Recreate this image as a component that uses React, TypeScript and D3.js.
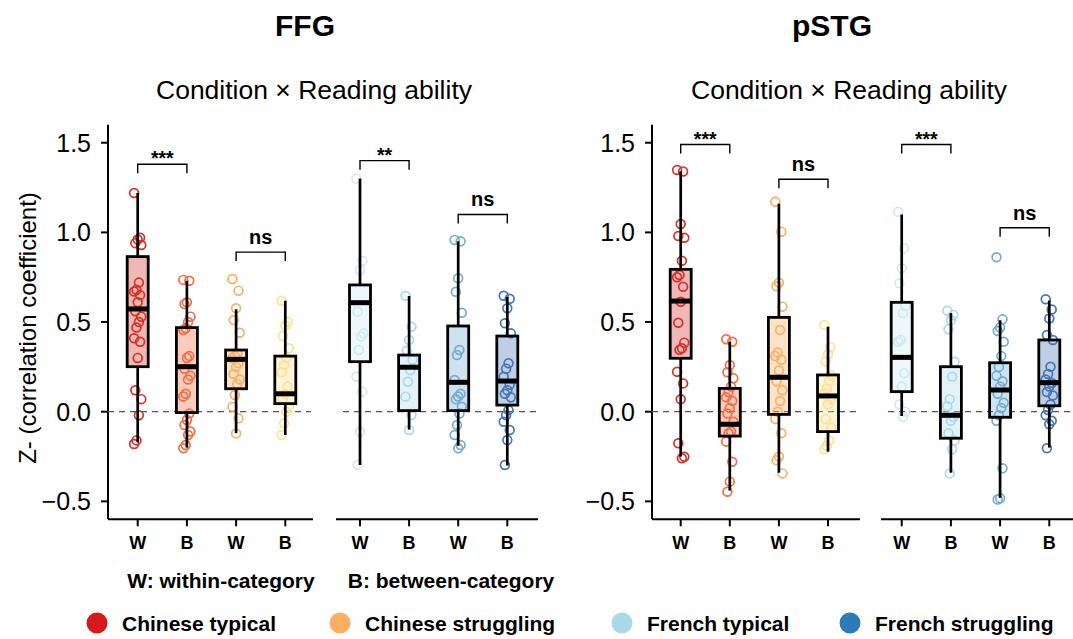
import React from 'react';
import * as d3 from 'd3';

// x labels of the eight boxes in every panel
const groupLabels = ['W', 'B', 'W', 'B', 'W', 'B', 'W', 'B'];
const pointColors = ['#D73027', '#F46D43', '#FDAE61', '#FEE090', '#CFE9F2', '#ABD9E9', '#74ADD1', '#4575B4'];
const yTicks = [-0.5, 0, 0.5, 1.0, 1.5];

const legendLabels = ['Chinese typical', 'Chinese struggling', 'French typical', 'French struggling'];
const legendColors = ['#D7191C', '#FDAE61', '#ABD9E9', '#2C7BB6'];

// FFG
const ffgPoints: number[][] = [
    [1.22, 0.97, 0.96, 0.94, 0.93, 0.72, 0.68, 0.67, 0.65, 0.61, 0.56, 0.53, 0.50, 0.47, 0.41, 0.39, 0.30, 0.12, 0.07, -0.02, -0.16, -0.18],
    [0.735, 0.73, 0.61, 0.60, 0.53, 0.50, 0.465, 0.455, 0.31, 0.30, 0.24, 0.20, 0.18, 0.10, 0.085, -0.01, -0.046, -0.074, -0.11, -0.13, -0.186, -0.204],
    [0.74, 0.675, 0.577, 0.511, 0.44, 0.325, 0.31, 0.30, 0.27, 0.25, 0.21, 0.18, 0.155, 0.093, 0.028, -0.037, -0.121],
    [0.619, 0.502, 0.48, 0.422, 0.354, 0.30, 0.26, 0.22, 0.14, 0.10, 0.07, 0.028, 0.0, -0.065, -0.13],
    [1.30, 0.842, 0.79, 0.558, 0.437, 0.42, 0.344, 0.195, 0.112, -0.112, -0.297],
    [0.647, 0.474, 0.40, 0.34, 0.29, 0.233, 0.167, 0.084, -0.018, -0.102],
    [0.958, 0.95, 0.744, 0.669, 0.552, 0.344, 0.316, 0.177, 0.10, 0.085, 0.07, 0.028, -0.01, -0.074, -0.13, -0.186, -0.204],
    [0.647, 0.63, 0.577, 0.493, 0.437, 0.27, 0.24, 0.195, 0.15, 0.12, 0.10, 0.08, 0.009, -0.02, -0.056, -0.102, -0.158, -0.297],
];
const ffgQ1 = [0.251, -0.005, 0.128, 0.045, 0.279, 0.006, 0.006, 0.037];
const ffgMedian = [0.573, 0.251, 0.292, 0.10, 0.608, 0.248, 0.164, 0.171];
const ffgQ3 = [0.865, 0.469, 0.344, 0.31, 0.707, 0.316, 0.478, 0.422];
const ffgLow = [-0.17, -0.20, -0.12, -0.13, -0.297, -0.10, -0.19, -0.30];
const ffgHigh = [1.22, 0.73, 0.571, 0.619, 1.30, 0.645, 0.95, 0.64];
const ffgSigLabels = ['***', 'ns', '**', 'ns'];
const ffgSigY = [1.38, 0.89, 1.40, 1.10];

// pSTG
const pstgPoints: number[][] = [
    [1.348, 1.34, 1.047, 0.98, 0.97, 0.842, 0.762, 0.75, 0.697, 0.613, 0.496, 0.385, 0.354, 0.345, 0.223, 0.158, 0.069, -0.176, -0.251, -0.26],
    [0.404, 0.39, 0.26, 0.22, 0.186, 0.14, 0.11, 0.08, 0.06, 0.02, -0.01, -0.056, -0.11, -0.12, -0.167, -0.279, -0.39, -0.446],
    [1.171, 1.004, 0.72, 0.70, 0.586, 0.456, 0.33, 0.31, 0.29, 0.23, 0.17, 0.12, 0.06, 0.0, -0.04, -0.12, -0.25, -0.27, -0.344],
    [0.483, 0.36, 0.32, 0.28, 0.20, 0.17, 0.13, 0.10, 0.07, 0.04, -0.04, -0.09, -0.16, -0.19, -0.21],
    [1.115, 0.911, 0.80, 0.716, 0.59, 0.55, 0.40, 0.39, 0.214, 0.14, 0.04, 0.0, -0.03],
    [0.563, 0.54, 0.51, 0.46, 0.279, 0.195, 0.07, 0.03, -0.03, -0.05, -0.12, -0.16, -0.21, -0.344],
    [0.861, 0.515, 0.47, 0.45, 0.39, 0.31, 0.25, 0.20, 0.17, 0.14, 0.10, 0.05, 0.02, -0.02, -0.05, -0.316, -0.483, -0.49],
    [0.627, 0.57, 0.52, 0.428, 0.40, 0.251, 0.21, 0.18, 0.16, 0.14, 0.11, 0.09, 0.04, 0.01, -0.02, -0.05, -0.07, -0.204],
];
const pstgQ1 = [0.298, -0.136, -0.015, -0.111, 0.112, -0.148, -0.031, 0.033];
const pstgMedian = [0.617, -0.07, 0.192, 0.088, 0.303, -0.02, 0.121, 0.162];
const pstgQ3 = [0.794, 0.13, 0.526, 0.205, 0.61, 0.251, 0.273, 0.40];
const pstgLow = [-0.25, -0.44, -0.34, -0.223, -0.024, -0.34, -0.48, -0.20];
const pstgHigh = [1.34, 0.39, 1.16, 0.474, 1.10, 0.55, 0.51, 0.62];
const pstgSigLabels = ['***', 'ns', '***', 'ns'];
const pstgSigY = [1.49, 1.296, 1.49, 1.026];

const FONT = '"Liberation Sans", Arial, Helvetica, sans-serif';

const y = d3.scaleLinear().domain([-0.6, 1.6]).range([519.3, 124.8]);

interface Sub { x0: number; x1: number; t0: number; t1: number; }

interface PanelProps {
    title: string;
    titleX: number;
    subtitleX: number;
    yAxisX: number;
    subs: Sub[];
    points: number[][];
    q1: number[];
    median: number[];
    q3: number[];
    low: number[];
    high: number[];
    sigLabels: string[];
    sigY: number[];
}

const jitter = (i: number) => (((i * 5) % 7) - 3) * 1.2;

const Panel: React.FC<PanelProps> = ({
    title, titleX, subtitleX, yAxisX, subs, points, q1, median, q3, low, high, sigLabels, sigY,
}) => {
    const boxHalf = 10.5;
    const xs = subs.map(s => d3.scalePoint<number>().domain([0, 1, 2, 3]).range([s.t0, s.t1]));
    const xOf = (g: number) => xs[Math.floor(g / 4)](g % 4) as number;
    const axisY = y(-0.6);

    return (
        <g>
            <text x={titleX} y={36} textAnchor="middle" fontFamily={FONT} fontWeight="bold" fontSize={30}>{title}</text>
            <text x={subtitleX} y={99} textAnchor="middle" fontFamily={FONT} fontSize={26.5}>Condition × Reading ability</text>

            {/* y axis */}
            <line x1={yAxisX} x2={yAxisX} y1={y(1.6)} y2={axisY} stroke="#000" strokeWidth={2} />
            {yTicks.map(t => (
                <g key={t}>
                    <line x1={yAxisX - 7} x2={yAxisX} y1={y(t)} y2={y(t)} stroke="#000" strokeWidth={2} />
                    <text x={yAxisX - 17} y={y(t)} dy="0.36em" textAnchor="end" fontFamily={FONT} fontSize={25}>
                        {d3.format('.1f')(t)}
                    </text>
                </g>
            ))}

            {subs.map((s, si) => (
                <g key={si}>
                    <line x1={s.x0} x2={s.x1} y1={axisY} y2={axisY} stroke="#000" strokeWidth={2} />
                    <line x1={si === 0 ? s.x0 : s.x0 + 7} x2={s.x1 - 2} y1={y(0)} y2={y(0)}
                          stroke="#555" strokeWidth={1.3} strokeDasharray="6,5" />
                    {[0, 1, 2, 3].map(k => (
                        <g key={k}>
                            <line x1={xs[si](k)} x2={xs[si](k)} y1={axisY} y2={axisY + 7} stroke="#000" strokeWidth={2} />
                            <text x={xs[si](k)} y={axisY + 30} textAnchor="middle" fontFamily={FONT}
                                  fontWeight="bold" fontSize={18}>{groupLabels[si * 4 + k]}</text>
                        </g>
                    ))}
                </g>
            ))}

            {points.map((vals, g) => {
                const cx = xOf(g);
                return (
                    <g key={g}>
                        <rect x={cx - boxHalf} y={y(q3[g])} width={boxHalf * 2} height={y(q1[g]) - y(q3[g])}
                              fill={pointColors[g]} fillOpacity={0.35} />
                        {vals.map((v, i) => (
                            <circle key={i} cx={cx + jitter(i)} cy={y(v)} r={4.4} fill="none"
                                    stroke={pointColors[g]} strokeWidth={1.7} />
                        ))}
                        <line x1={cx} x2={cx} y1={y(high[g])} y2={y(q3[g])} stroke="#000" strokeWidth={2.7} />
                        <line x1={cx} x2={cx} y1={y(q1[g])} y2={y(low[g])} stroke="#000" strokeWidth={2.7} />
                        <rect x={cx - boxHalf} y={y(q3[g])} width={boxHalf * 2} height={y(q1[g]) - y(q3[g])}
                              fill="none" stroke="#000" strokeWidth={2.8} />
                        <line x1={cx - boxHalf} x2={cx + boxHalf} y1={y(median[g])} y2={y(median[g])}
                              stroke="#000" strokeWidth={5} />
                    </g>
                );
            })}

            {sigLabels.map((lab, k) => {
                const xa = xOf(k * 2);
                const xb = xOf(k * 2 + 1);
                const by = y(sigY[k]);
                const isStar = lab.startsWith('*');
                return (
                    <g key={k}>
                        <path d={`M${xa},${by + 9}V${by}H${xb}V${by + 9}`} fill="none" stroke="#000" strokeWidth={1.4} />
                        <text x={(xa + xb) / 2} y={isStar ? by + 1 : by - 8} textAnchor="middle" fontFamily={FONT}
                              fontWeight="bold" fontSize={isStar ? 19.5 : 20}>{lab}</text>
                    </g>
                );
            })}
        </g>
    );
};

const legendX = [97, 340, 622, 850];

const App: React.FC = () => (
    <svg width={1073} height={639} style={{ position: 'absolute', left: 0, top: 0, background: '#fff' }}>
        <Panel title="FFG" titleX={305} subtitleX={314} yAxisX={108}
               subs={[{ x0: 108, x1: 313, t0: 137.7, t1: 285.3 }, { x0: 336, x1: 538, t0: 360, t1: 507.3 }]}
               points={ffgPoints} q1={ffgQ1} median={ffgMedian} q3={ffgQ3} low={ffgLow} high={ffgHigh}
               sigLabels={ffgSigLabels} sigY={ffgSigY} />
        <Panel title="pSTG" titleX={832} subtitleX={849} yAxisX={652}
               subs={[{ x0: 652, x1: 860, t0: 680.7, t1: 828 }, { x0: 881, x1: 1080, t0: 901.7, t1: 1049.3 }]}
               points={pstgPoints} q1={pstgQ1} median={pstgMedian} q3={pstgQ3} low={pstgLow} high={pstgHigh}
               sigLabels={pstgSigLabels} sigY={pstgSigY} />

        {/* y title (left only) */}
        <text transform="translate(36,328) rotate(-90)" textAnchor="middle" fontFamily={FONT} fontSize={24}>
            Z- (correlation coefficient)
        </text>

        <text x={221} y={588} textAnchor="middle" fontFamily={FONT} fontWeight="bold" fontSize={21}>W: within-category</text>
        <text x={451} y={588} textAnchor="middle" fontFamily={FONT} fontWeight="bold" fontSize={21}>B: between-category</text>

        {legendLabels.map((lab, i) => (
            <g key={lab}>
                <circle cx={legendX[i]} cy={623} r={10.5} fill={legendColors[i]} />
                <text x={legendX[i] + 25} y={631} fontFamily={FONT} fontWeight="bold" fontSize={21}>{lab}</text>
            </g>
        ))}
    </svg>
);

export default App;
